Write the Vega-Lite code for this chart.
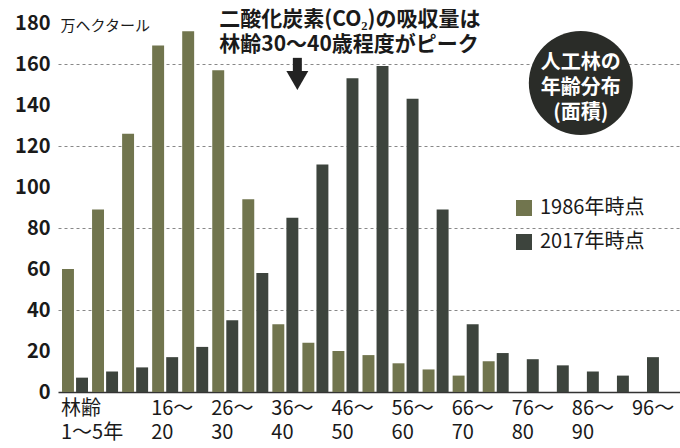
{
  "$schema": "https://vega.github.io/schema/vega-lite/v6.json",
  "width": 622,
  "height": 369,
  "autosize": {"type": "none"},
  "padding": {"left": 58, "top": 23, "right": 0, "bottom": 56},
  "background": "#ffffff",
  "config": {"view": {"stroke": null}, "font": "Noto Sans CJK JP"},
  "datasets": {
    "forest": [
      {"age": "1～5", "year": "1986", "value": 60}, {"age": "1～5", "year": "2017", "value": 7},
      {"age": "6～10", "year": "1986", "value": 89}, {"age": "6～10", "year": "2017", "value": 10},
      {"age": "11～15", "year": "1986", "value": 126}, {"age": "11～15", "year": "2017", "value": 12},
      {"age": "16～20", "year": "1986", "value": 169}, {"age": "16～20", "year": "2017", "value": 17},
      {"age": "21～25", "year": "1986", "value": 176}, {"age": "21～25", "year": "2017", "value": 22},
      {"age": "26～30", "year": "1986", "value": 157}, {"age": "26～30", "year": "2017", "value": 35},
      {"age": "31～35", "year": "1986", "value": 94}, {"age": "31～35", "year": "2017", "value": 58},
      {"age": "36～40", "year": "1986", "value": 33}, {"age": "36～40", "year": "2017", "value": 85},
      {"age": "41～45", "year": "1986", "value": 24}, {"age": "41～45", "year": "2017", "value": 111},
      {"age": "46～50", "year": "1986", "value": 20}, {"age": "46～50", "year": "2017", "value": 153},
      {"age": "51～55", "year": "1986", "value": 18}, {"age": "51～55", "year": "2017", "value": 159},
      {"age": "56～60", "year": "1986", "value": 14}, {"age": "56～60", "year": "2017", "value": 143},
      {"age": "61～65", "year": "1986", "value": 11}, {"age": "61～65", "year": "2017", "value": 89},
      {"age": "66～70", "year": "1986", "value": 8}, {"age": "66～70", "year": "2017", "value": 33},
      {"age": "71～75", "year": "1986", "value": 15}, {"age": "71～75", "year": "2017", "value": 19},
      {"age": "76～80", "year": "2017", "value": 16},
      {"age": "81～85", "year": "2017", "value": 13},
      {"age": "86～90", "year": "2017", "value": 10},
      {"age": "91～95", "year": "2017", "value": 8},
      {"age": "96～", "year": "2017", "value": 17}
    ],
    "one": [{"k": 1}]
  },
  "layer": [
    {
      "data": {"name": "forest"},
      "mark": {"type": "bar"},
      "encoding": {
        "x": {
          "field": "age", "type": "nominal",
          "scale": {
            "domain": ["1～5","6～10","11～15","16～20","21～25","26～30","31～35","36～40","41～45","46～50","51～55","56～60","61～65","66～70","71～75","76～80","81～85","86～90","91～95","96～"],
            "paddingInner": 0.135, "paddingOuter": 0.4175, "align": 0.16
          },
          "axis": {
            "title": null,
            "ticks": false,
            "domainColor": "#333333",
            "domainWidth": 1.5,
            "labelAngle": 0,
            "labelAlign": "left",
            "labelBaseline": "top",
            "labelOffset": -14,
            "labelPadding": 6,
            "labelFontSize": 20,
            "labelLineHeight": 24,
            "labelColor": "#1a1a1a",
            "labelOverlap": false,
            "labelBound": false,
            "labelExpr": "datum.value == '1～5' ? ['林齢','1～5年'] : (indexof(['16～20','26～30','36～40','46～50','56～60','66～70','76～80','86～90'], datum.value) >= 0 ? [split(datum.value,'～')[0] + '～', split(datum.value,'～')[1]] : (datum.value == '96～' ? '96～' : ''))"
          }
        },
        "y": {
          "field": "value", "type": "quantitative", "stack": null,
          "scale": {"domain": [0, 180], "nice": false},
          "axis": {
            "title": "万ヘクタール",
            "titleAngle": 0, "titleAlign": "left", "titleBaseline": "middle",
            "titleX": 2, "titleY": 2, "titleFontSize": 15, "titleFontWeight": "normal", "titleColor": "#1a1a1a",
            "values": [0,20,40,60,80,100,120,140,160,180],
            "domain": false, "ticks": false,
            "labelFontSize": 20, "labelFontWeight": "bold", "labelColor": "#1a1a1a", "labelPadding": 8,
            "grid": true, "gridColor": "#888888", "gridDash": [3, 3], "gridWidth": 1,
            "gridOpacity": {"condition": {"test": "datum.value % 40 === 0 && datum.value > 0", "value": 1}, "value": 0}
          }
        },
        "xOffset": {"field": "year", "type": "nominal", "scale": {"paddingInner": 0.15, "paddingOuter": 0}},
        "color": {
          "field": "year", "type": "nominal",
          "scale": {"domain": ["1986", "2017"], "range": ["#71754e", "#3d443d"]},
          "legend": {
            "title": null, "orient": "none", "legendX": 456, "legendY": 175,
            "symbolType": "square", "symbolSize": 256, "symbolStrokeWidth": 0,
            "labelFontSize": 20, "labelColor": "#1a1a1a", "labelOffset": 6, "rowPadding": 14,
            "labelExpr": "datum.label + '年時点'"
          }
        }
      }
    },
    {
      "data": {"name": "one"},
      "mark": {"type": "text", "text": ["二酸化炭素(CO₂)の吸収量は", "林齢30～40歳程度がピーク"], "align": "left", "baseline": "top", "fontSize": 21, "fontWeight": "bold", "lineHeight": 25, "dx": -6, "color": "#1a1a1a"},
      "encoding": {"x": {"datum": "26～30"}, "y": {"datum": 187}}
    },
    {
      "data": {"name": "one"},
      "mark": {"type": "rule", "strokeWidth": 9, "color": "#222222", "xOffset": 12},
      "encoding": {"x": {"datum": "36～40"}, "y": {"datum": 163}, "y2": {"datum": 154.5}}
    },
    {
      "data": {"name": "one"},
      "mark": {"type": "point", "shape": "triangle-down", "filled": true, "size": 480, "opacity": 1, "color": "#222222", "xOffset": 12},
      "encoding": {"x": {"datum": "36～40"}, "y": {"datum": 152}}
    },
    {
      "data": {"name": "one"},
      "mark": {"type": "point", "shape": "circle", "filled": true, "size": 10816, "opacity": 1, "color": "#2a2c28", "xOffset": -5},
      "encoding": {"x": {"datum": "86～90"}, "y": {"datum": 150.7}}
    },
    {
      "data": {"name": "one"},
      "mark": {"type": "text", "text": ["人工林の", "年齢分布", "(面積)"], "align": "center", "baseline": "middle", "fontSize": 20, "fontWeight": "bold", "lineHeight": 25, "dx": -5, "color": "#ffffff"},
      "encoding": {"x": {"datum": "86～90"}, "y": {"datum": 160.5}}
    }
  ]
}
